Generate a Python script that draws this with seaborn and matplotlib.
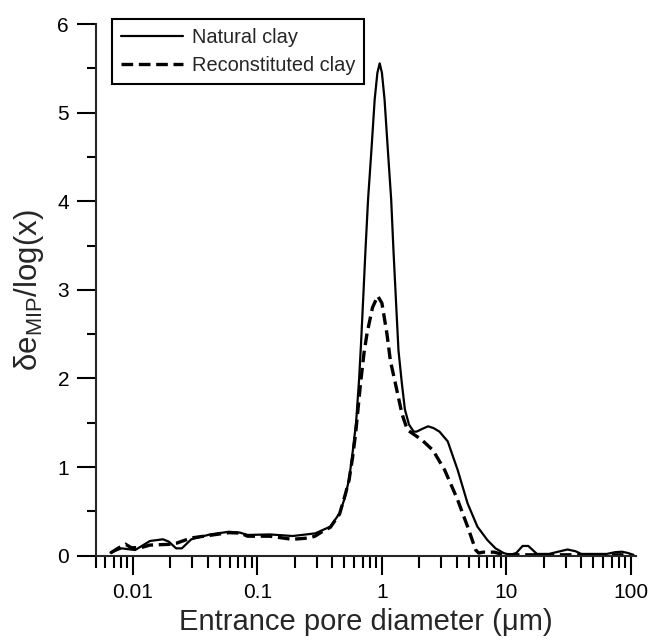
import numpy as np
import pandas as pd
import matplotlib
matplotlib.use("Agg")
import matplotlib.pyplot as plt
import seaborn as sns
from matplotlib.ticker import FixedLocator, FixedFormatter, MultipleLocator, LogLocator, NullFormatter

# ---- data ----
natural_d = [0.0066, 0.0081, 0.0104, 0.0137, 0.0174, 0.0194, 0.0222, 0.0247, 0.0294, 0.0416,
             0.0589, 0.0725, 0.0833, 0.126, 0.192, 0.291, 0.385, 0.457, 0.50, 0.544,
             0.58, 0.62, 0.655, 0.68, 0.71, 0.738, 0.774, 0.824, 0.875, 0.92,
             0.96, 1.0, 1.05, 1.116, 1.187, 1.238, 1.30, 1.358, 1.445, 1.53,
             1.65, 1.80, 1.90, 2.10, 2.35, 2.60, 2.90, 3.38, 3.70, 4.06,
             4.88, 5.85, 7.03, 8.18, 9.5, 10.7, 12.0, 13.5, 15.0, 17.6,
             22.0, 27.0, 31.0, 36.0, 40.0, 64.0, 75.0, 85.0, 95.0, 105.0]
natural_v = [0.034, 0.083, 0.064, 0.166, 0.185, 0.159, 0.083, 0.083, 0.185, 0.24,
             0.27, 0.26, 0.234, 0.24, 0.222, 0.252, 0.328, 0.479, 0.64, 0.855,
             1.15, 1.50, 1.98, 2.40, 2.95, 3.45, 4.02, 4.58, 5.15, 5.45,
             5.556, 5.45, 5.15, 4.58, 4.02, 3.45, 2.85, 2.32, 1.95, 1.65,
             1.48, 1.40, 1.40, 1.43, 1.46, 1.44, 1.40, 1.29, 1.13, 0.968,
             0.59, 0.328, 0.177, 0.083, 0.03, 0.01, 0.03, 0.11, 0.11, 0.02,
             0.02, 0.05, 0.07, 0.05, 0.02, 0.02, 0.04, 0.045, 0.03, 0.01]

recon_d = [0.0066, 0.0075, 0.0087, 0.0097, 0.0115, 0.0137, 0.0194, 0.0222, 0.0294, 0.0416,
           0.059, 0.073, 0.0833, 0.126, 0.19, 0.26, 0.29, 0.33, 0.385, 0.457,
           0.51, 0.544, 0.58, 0.615, 0.674, 0.72, 0.76, 0.84, 0.925, 1.0,
           1.096, 1.17, 1.28, 1.45, 1.60, 1.80, 2.08, 2.57, 3.19, 4.06,
           4.88, 5.67, 6.0, 6.5, 8.0, 9.0, 11.0, 20.0, 50.0, 100.0]
recon_v = [0.03, 0.08, 0.13, 0.09, 0.09, 0.12, 0.128, 0.14, 0.20, 0.23,
           0.26, 0.255, 0.22, 0.22, 0.185, 0.20, 0.22, 0.27, 0.32, 0.47,
           0.70, 0.85, 1.10, 1.38, 1.95, 2.30, 2.51, 2.80, 2.93, 2.85,
           2.51, 2.20, 1.95, 1.60, 1.42, 1.37, 1.31, 1.19, 0.968, 0.63,
           0.328, 0.064, 0.03, 0.04, 0.04, 0.02, 0.01, 0.01, 0.01, 0.01]

series_names = ["Natural clay", "Reconstituted clay"]
x_tick_vals = [0.01, 0.1, 1, 10, 100]
x_tick_labels = ["0.01", "0.1", "1", "10", "100"]
x_label = "Entrance pore diameter (\u03bcm)"
y_label = "\u03b4e$\\mathregular{_{MIP}}$/log(x)"

# ---- style ----
sns.set_theme(style="ticks")
plt.rcParams["font.family"] = ["Liberation Sans", "DejaVu Sans"]
plt.rcParams["axes.linewidth"] = 1.5

fig = plt.figure(figsize=(6.49, 6.41), dpi=100)
ax = fig.add_axes([95.5 / 649, 1 - 555.7 / 641, (636 - 95.5) / 649, (555.7 - 24) / 641])

df_nat = pd.DataFrame({"d": natural_d, "v": natural_v})
df_rec = pd.DataFrame({"d": recon_d, "v": recon_v})

sns.lineplot(data=df_nat, x="d", y="v", ax=ax, color="black", linewidth=1.6,
             estimator=None, label=series_names[0])
sns.lineplot(data=df_rec, x="d", y="v", ax=ax, color="black", linewidth=2.4,
             linestyle=(0, (3.5, 1.7)), estimator=None, label=series_names[1])

ax.set_xscale("log")
ax.set_xlim(0.005, 110)
ax.set_ylim(0, 6)

ax.xaxis.set_major_locator(FixedLocator(x_tick_vals))
ax.xaxis.set_major_formatter(FixedFormatter(x_tick_labels))
ax.xaxis.set_minor_locator(LogLocator(base=10, subs=np.arange(2, 10), numticks=20))
ax.xaxis.set_minor_formatter(NullFormatter())
ax.yaxis.set_major_locator(MultipleLocator(1))
ax.yaxis.set_minor_locator(MultipleLocator(0.5))

for s in ["top", "right"]:
    ax.spines[s].set_visible(False)

ax.tick_params(axis="both", which="major", direction="out", length=14, width=1.5,
               labelsize=15, colors="black", pad=6)
ax.tick_params(axis="x", which="minor", direction="out", length=8.5, width=1.5, colors="black")
ax.tick_params(axis="y", which="minor", direction="out", length=6.7, width=1.5, colors="black")
ax.tick_params(axis="y", which="major", pad=5)

ax.set_xlabel(x_label, fontsize=21, labelpad=4)
ax.set_ylabel(y_label, fontsize=22.5, labelpad=8)

leg = ax.legend(loc="upper left", bbox_to_anchor=(112 / 649, 1 - 19 / 641),
                bbox_transform=fig.transFigure, borderaxespad=0, fontsize=14.4,
                frameon=True, fancybox=False, framealpha=1, edgecolor="black",
                handlelength=3.1, handletextpad=0.45, labelspacing=0.45, borderpad=0.45)
leg.get_frame().set_linewidth(1.5)

fig.savefig("out.png", dpi=100)
